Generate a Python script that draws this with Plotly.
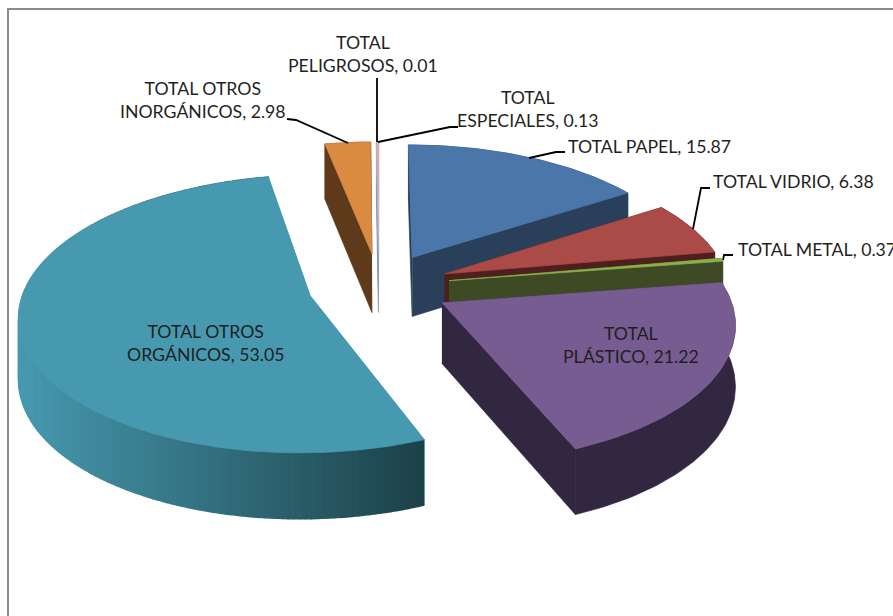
import numpy as np
import plotly.graph_objects as go

# ---- data ----
categories = ["TOTAL PAPEL", "TOTAL VIDRIO", "TOTAL METAL", "TOTAL PLÁSTICO",
              "TOTAL OTROS ORGÁNICOS", "TOTAL OTROS INORGÁNICOS",
              "TOTAL PELIGROSOS", "TOTAL ESPECIALES"]
values = [15.87, 6.38, 0.37, 21.22, 53.05, 2.98, 0.01, 0.13]
label_texts = ["TOTAL PAPEL, 15.87", "TOTAL VIDRIO, 6.38", "TOTAL METAL, 0.37",
               "TOTAL<br>PLÁSTICO, 21.22", "TOTAL OTROS<br>ORGÁNICOS, 53.05",
               "TOTAL OTROS<br>INORGÁNICOS, 2.98", "TOTAL<br>PELIGROSOS, 0.01",
               "TOTAL<br>ESPECIALES, 0.13"]

# ---- styles / layout ----
top_colors = ["#4a76a9", "#aa4b47", "#8ab04a", "#775c91", "#4799b0", "#db8a42", "#c0d0e0", "#eaa6a6"]
wall_left = ["#2a405a", "#4d1f1e", "#3e4a24", "#312740", "#4799b0", "#5f3a1a", "#8090a8", "#b0b8c8"]
wall_right = ["#2a405a", "#4d1f1e", "#3e4a24", "#312740", "#1c4148", "#5f3a1a", "#8090a8", "#b0b8c8"]
draw_order = [7, 6, 5, 0, 1, 2, 3, 4]
explode = 0.25
CX, CY, RX, RY, PERSP = 379, 286, 285, 134, 0.13
label_pos = [(566, 146, "left"), (711, 181, "left"), (736, 249, "left"),
             (631, 345, "center"), (205, 343, "center"),
             (203, 100, "center"), (363, 54, "center"), (528, 109, "center")]
leaders = [[(529, 158), (556, 152), (565, 152)],
           [(693, 229), (701, 188), (710, 188)],
           [(723, 260), (724, 255), (733, 255)],
           [(287, 119), (296, 120), (348, 143)],
           [(377, 78), (377, 142)],
           [(378, 142), (450, 127), (458, 127)]]


def proj(theta, mid, r=1.0):
    X = r * np.sin(theta) + explode * np.sin(mid)
    Y = r * np.cos(theta) + explode * np.cos(mid)
    w = 1 + PERSP * Y
    return CX + RX * X / w, CY - RY * Y / w


def depth(sy):
    return 60 + (sy - 285) * 0.035


def hex_mix(a, b, t):
    ca = [int(a[i:i + 2], 16) for i in (1, 3, 5)]
    cb = [int(b[i:i + 2], 16) for i in (1, 3, 5)]
    return "rgb(%d,%d,%d)" % tuple(round(x + (y - x) * t) for x, y in zip(ca, cb))


fig = go.Figure()


def poly(xs, ys, color, lw=0.7):
    fig.add_trace(go.Scatter(x=list(xs), y=list(ys), mode="lines", fill="toself",
                             fillcolor=color, line=dict(color=color, width=lw),
                             hoverinfo="skip", showlegend=False))


total = sum(values)
edges = np.cumsum([0] + values) / total * 2 * np.pi

for i in draw_order:
    a0, a1 = edges[i], edges[i + 1]
    mid = (a0 + a1) / 2
    ax, ay = proj(mid, mid, 0.0)
    lw = 0.7 if values[i] > 0.2 else 0.4
    # cut walls
    for a in (a0, a1):
        ex, ey = proj(a, mid)
        poly([ax, ex, ex, ax], [ay, ey, ey + depth(ey), ay + depth(ay)], wall_left[i], lw)
    # outer wall in strips (shading runs with screen x)
    n = max(2, int((a1 - a0) / np.radians(1.0)))
    th = np.linspace(a0, a1, n + 1)
    px, py = proj(th, mid)
    xmin, xmax = px.min(), px.max()
    if wall_left[i] == wall_right[i]:
        poly(list(px) + list(px[::-1]),
             list(py) + [v + depth(v) for v in py[::-1]], wall_left[i], lw)
    else:
        for k in range(n):
            t = ((px[k] + px[k + 1]) / 2 - xmin) / (xmax - xmin)
            t = min(1, max(0, t))
            poly([px[k], px[k + 1], px[k + 1], px[k]],
                 [py[k], py[k + 1], py[k + 1] + depth(py[k + 1]), py[k] + depth(py[k])],
                 hex_mix(wall_left[i], wall_right[i], t), 1.5)
    # top face
    poly([ax] + list(px) + [ax], [ay] + list(py) + [ay], top_colors[i], lw)

for pts in leaders:
    fig.add_trace(go.Scatter(x=[p[0] for p in pts], y=[p[1] for p in pts], mode="lines",
                             line=dict(color="#000000", width=1.8),
                             hoverinfo="skip", showlegend=False))

for txt, (x, y, al) in zip(label_texts, label_pos):
    fig.add_annotation(x=x, y=y, xref="x", yref="y", text=txt, showarrow=False,
                       xanchor=al, yanchor="middle", align=al,
                       font=dict(family="Lato", size=17.7, color="#1f1f1f"))

fig.add_shape(type="rect", xref="x", yref="y", x0=8, y0=9, x1=950, y1=660,
              line=dict(color="#8c8c8c", width=2), fillcolor="rgba(0,0,0,0)")

fig.update_layout(width=893, height=616, margin=dict(l=0, r=0, t=0, b=0),
                  paper_bgcolor="#ffffff", plot_bgcolor="#ffffff", showlegend=False,
                  xaxis=dict(range=[0, 893], visible=False, fixedrange=True),
                  yaxis=dict(range=[616, 0], visible=False, fixedrange=True))

fig.write_html("out.html", config={"displayModeBar": False},
               post_script="document.body.style.margin='0';document.body.style.overflow='hidden';")
